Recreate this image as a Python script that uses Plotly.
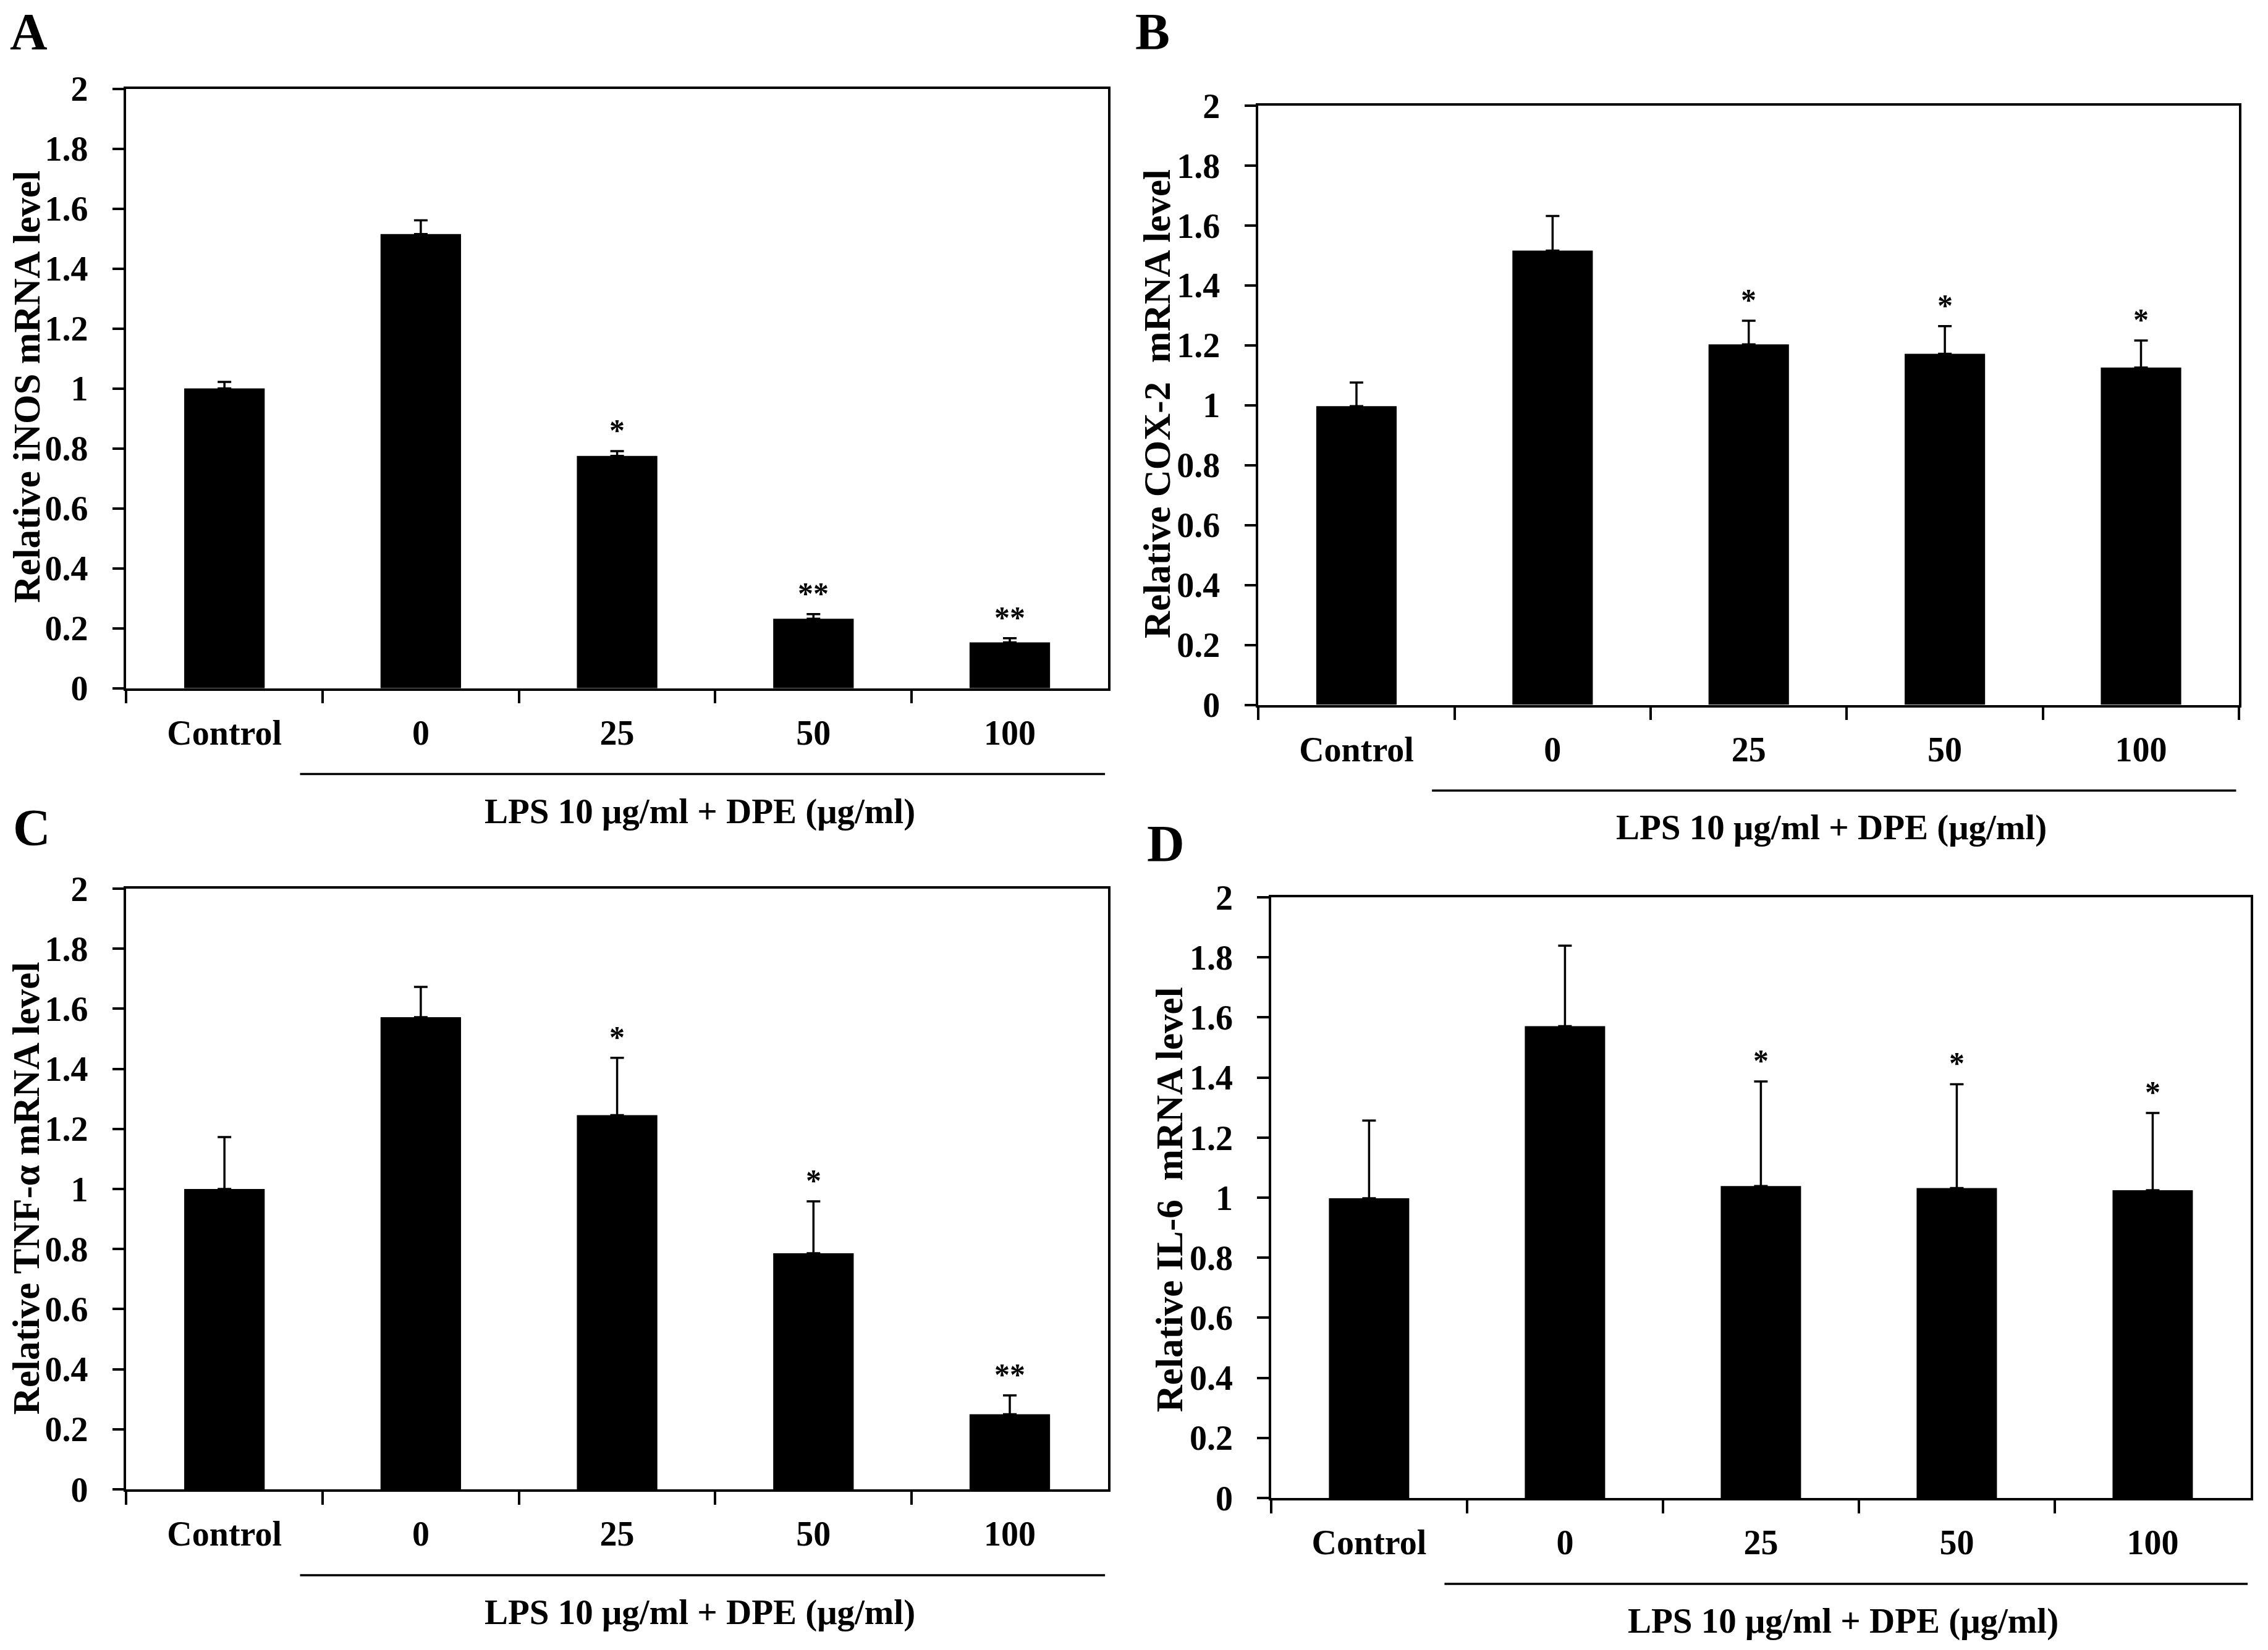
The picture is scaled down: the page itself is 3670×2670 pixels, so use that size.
import plotly.graph_objects as go

categories = ["Control", "0", "25", "50", "100"]
group_label = "LPS 10 μg/ml + DPE (μg/ml)"
y_ticks = [0, 0.2, 0.4, 0.6, 0.8, 1, 1.2, 1.4, 1.6, 1.8, 2]
y_tick_text = ["0", "0.2", "0.4", "0.6", "0.8", "1", "1.2", "1.4", "1.6", "1.8", "2"]

inos_values = [1.00, 1.515, 0.775, 0.232, 0.153]
inos_errors = [0.022, 0.046, 0.016, 0.015, 0.014]
inos_stars = ["", "", "*", "**", "**"]

cox2_values = [0.997, 1.516, 1.203, 1.172, 1.126]
cox2_errors = [0.079, 0.116, 0.079, 0.092, 0.090]
cox2_stars = ["", "", "*", "*", "*"]

tnf_values = [1.00, 1.572, 1.246, 0.786, 0.25]
tnf_errors = [0.173, 0.101, 0.191, 0.173, 0.063]
tnf_stars = ["", "", "*", "*", "**"]

il6_values = [0.998, 1.571, 1.039, 1.032, 1.025]
il6_errors = [0.259, 0.268, 0.348, 0.346, 0.257]
il6_stars = ["", "", "*", "*", "*"]

panel_letters = ["A", "B", "C", "D"]
y_titles = ["Relative iNOS mRNA level", "Relative COX-2  mRNA level",
            "Relative TNF-α mRNA level", "Relative IL-6  mRNA level"]

panels = [
    (inos_values, inos_errors, inos_stars),
    (cox2_values, cox2_errors, cox2_stars),
    (tnf_values, tnf_errors, tnf_stars),
    (il6_values, il6_errors, il6_stars),
]

W, H = 1568.0, 1140.0
# plot-area boxes in reference display coords: left, right, top, bottom
boxes = [(87.3, 766, 61.3, 475.5), (870, 1548, 73, 487), (87.3, 766, 614, 1029), (878.8, 1556, 620, 1035)]
letter_pos = [(20, 22), (797, 22), (22, 572), (806, 583)]
ytitle_pos = [(18.5, 267), (800, 279), (18.5, 821), (808.6, 829)]

FONT = "Liberation Serif"
fig = go.Figure()
annotations = []
shapes = []

for i, ((vals, errs, stars), box) in enumerate(zip(panels, boxes)):
    n = "" if i == 0 else str(i + 1)
    xa, ya = "x" + n, "y" + n
    l, r, t, b = box
    fig.add_trace(go.Bar(
        x=categories, y=vals, xaxis=xa, yaxis=ya, width=0.41,
        marker=dict(color="black", line=dict(width=0)),
        error_y=dict(type="data", symmetric=False, array=errs,
                     arrayminus=[0] * len(errs), color="black",
                     thickness=3.5, width=11),
        showlegend=False))
    axis_common = dict(showline=True, linecolor="black", linewidth=3.5, mirror=True,
                       showgrid=False, zeroline=False, ticks="outside",
                       tickcolor="black", tickwidth=3.5, automargin=False,
                       tickfont=dict(family=FONT, size=56, color="black", weight="bold"))
    fig.update_layout(**{
        ("xaxis" + n): dict(axis_common, domain=[l / W, r / W], anchor=ya,
                            type="category", categoryorder="array", categoryarray=categories,
                            range=[-0.5, 4.5], tickson="boundaries", ticklen=21,
                            ticklabelstandoff=20, fixedrange=True),
        ("yaxis" + n): dict(axis_common, domain=[1 - b / H, 1 - t / H], anchor=xa,
                            range=[0, 2], tickvals=y_ticks, ticktext=y_tick_text,
                            ticklen=19, ticklabelstandoff=28),
    })
    for j, (v, e, s) in enumerate(zip(vals, errs, stars)):
        if s:
            annotations.append(dict(x=j, y=v + e, xref=xa, yref=ya, text=s,
                                    showarrow=False, yanchor="bottom", yshift=4,
                                    font=dict(family=FONT, size=50, color="black", weight="bold")))
    shapes.append(dict(type="line", xref=xa, yref=ya + " domain", x0=0.385, x1=4.485,
                       y0=-0.143, y1=-0.143, line=dict(color="black", width=3.5)))
    annotations.append(dict(x=2.42, y=-0.205, xref=xa, yref=ya + " domain", text=group_label,
                            showarrow=False, yanchor="middle", xanchor="center",
                            font=dict(family=FONT, size=57, color="black", weight="bold")))
    lx, ly = letter_pos[i]
    annotations.append(dict(x=lx / W, y=1 - ly / H, xref="paper", yref="paper",
                            text=panel_letters[i], showarrow=False,
                            xanchor="center", yanchor="middle",
                            font=dict(family=FONT, size=84, color="black", weight="bold")))
    tx, ty = ytitle_pos[i]
    annotations.append(dict(x=tx / W, y=1 - ty / H, xref="paper", yref="paper",
                            text=y_titles[i], showarrow=False, textangle=-90,
                            xanchor="center", yanchor="middle",
                            font=dict(family=FONT, size=61, color="black", weight="bold")))

fig.update_layout(width=3670, height=2670, margin=dict(l=0, r=0, t=0, b=0, autoexpand=False),
                  paper_bgcolor="white", plot_bgcolor="white",
                  annotations=annotations, shapes=shapes, bargap=0.59)
fig.write_html("out.html", config={"displayModeBar": False},
               post_script="document.body.style.margin='0';")
